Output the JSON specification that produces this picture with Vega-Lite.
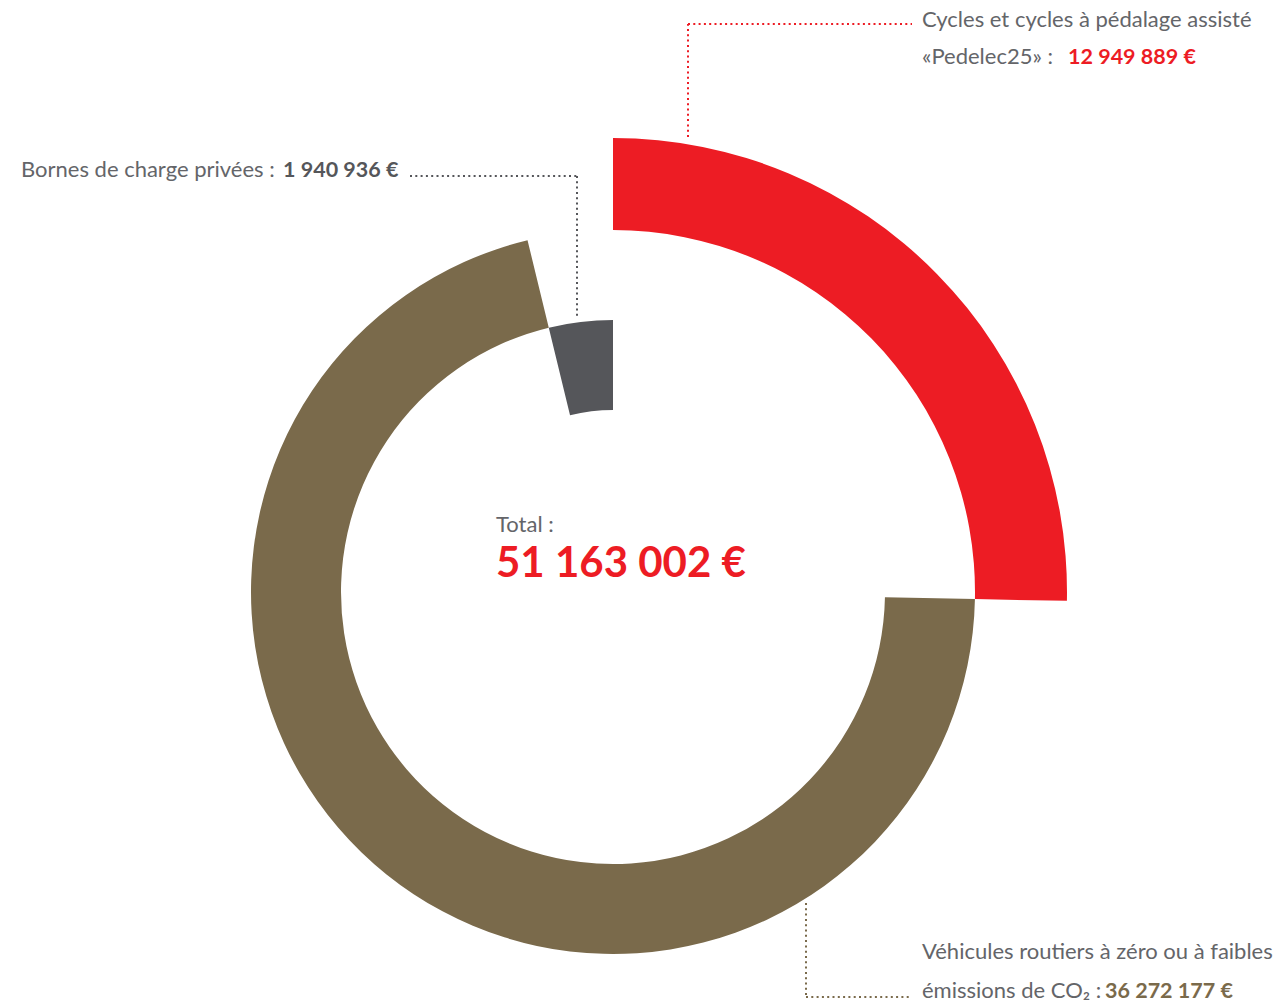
{
  "$schema": "https://vega.github.io/schema/vega-lite/v6.json",
  "width": 1278,
  "height": 1008,
  "autosize": {"type": "fit", "contains": "padding"},
  "padding": 0,
  "background": "white",
  "config": {
    "view": {"stroke": null},
    "locale": {"number": {"decimal": ",", "thousands": " ", "grouping": [3], "currency": ["", " €"]}},
    "text": {"font": "Lato", "fontSize": 22, "align": "left", "baseline": "alphabetic", "color": "#646569"}
  },
  "data": {
    "values": [
      {"categorie": "Cycles et cycles à pédalage assisté «Pedelec25»", "ordre": 1, "montant": 12949889},
      {"categorie": "Véhicules routiers à zéro ou à faibles émissions de CO₂", "ordre": 2, "montant": 36272177},
      {"categorie": "Bornes de charge privées", "ordre": 3, "montant": 1940936}
    ]
  },
  "transform": [
    {"stack": "montant", "groupby": [], "sort": [{"field": "ordre", "order": "ascending"}], "as": ["v0", "v1"]}
  ],
  "encoding": {
    "x": {"datum": 0, "type": "quantitative", "scale": {"domain": [-613, 665], "nice": false, "zero": false}, "axis": null},
    "y": {"datum": 0, "type": "quantitative", "scale": {"domain": [-416, 592], "nice": false, "zero": false}, "axis": null}
  },
  "layer": [
    {
      "transform": [{"filter": {"field": "ordre", "equal": 1}}],
      "mark": {"type": "arc", "innerRadius": 362, "outerRadius": 454, "color": "#ED1C24"},
      "encoding": {
        "theta": {"field": "v0", "type": "quantitative", "scale": {"domain": [0, 51163002]}},
        "theta2": {"field": "v1"}
      }
    },
    {
      "transform": [{"filter": {"field": "ordre", "equal": 2}}],
      "mark": {"type": "arc", "innerRadius": 272, "outerRadius": 362, "color": "#7A6A4B"},
      "encoding": {
        "theta": {"field": "v0", "type": "quantitative", "scale": {"domain": [0, 51163002]}},
        "theta2": {"field": "v1"}
      }
    },
    {
      "transform": [{"filter": {"field": "ordre", "equal": 3}}],
      "mark": {"type": "arc", "innerRadius": 182, "outerRadius": 272, "color": "#55565A"},
      "encoding": {
        "theta": {"field": "v0", "type": "quantitative", "scale": {"domain": [0, 51163002]}},
        "theta2": {"field": "v1"}
      }
    },
    {
      "transform": [{"filter": {"field": "ordre", "equal": 1}}],
      "mark": {"type": "rule", "color": "#ED1C24", "strokeWidth": 2, "strokeDash": [2, 3.3]},
      "encoding": {"x": {"datum": 75}, "y": {"datum": 455}, "y2": {"datum": 568}}
    },
    {
      "transform": [{"filter": {"field": "ordre", "equal": 1}}],
      "mark": {"type": "rule", "color": "#ED1C24", "strokeWidth": 2, "strokeDash": [2, 3.3]},
      "encoding": {"x": {"datum": 75}, "x2": {"datum": 299}, "y": {"datum": 568}}
    },
    {
      "transform": [{"filter": {"field": "ordre", "equal": 3}}],
      "mark": {"type": "rule", "color": "#55565A", "strokeWidth": 2, "strokeDash": [2, 3.3]},
      "encoding": {"x": {"datum": -203}, "x2": {"datum": -36}, "y": {"datum": 416}}
    },
    {
      "transform": [{"filter": {"field": "ordre", "equal": 3}}],
      "mark": {"type": "rule", "color": "#55565A", "strokeWidth": 2, "strokeDash": [2, 3.3]},
      "encoding": {"x": {"datum": -36}, "y": {"datum": 416}, "y2": {"datum": 273}}
    },
    {
      "transform": [{"filter": {"field": "ordre", "equal": 2}}],
      "mark": {"type": "rule", "color": "#7A6A4B", "strokeWidth": 2, "strokeDash": [2, 3.3]},
      "encoding": {"x": {"datum": 193}, "y": {"datum": -311}, "y2": {"datum": -405}}
    },
    {
      "transform": [{"filter": {"field": "ordre", "equal": 2}}],
      "mark": {"type": "rule", "color": "#7A6A4B", "strokeWidth": 2, "strokeDash": [2, 3.3]},
      "encoding": {"x": {"datum": 193}, "x2": {"datum": 298}, "y": {"datum": -405}}
    },
    {
      "transform": [{"filter": {"field": "ordre", "equal": 1}}],
      "mark": {"type": "text", "text": "Cycles et cycles à pédalage assisté\n«Pedelec25» :", "lineBreak": "\n", "lineHeight": 37},
      "encoding": {"x": {"datum": 309}, "y": {"datum": 565}}
    },
    {
      "transform": [{"filter": {"field": "ordre", "equal": 1}}],
      "mark": {"type": "text", "fontWeight": "bold", "fontSize": 21.5, "color": "#ED1C24"},
      "encoding": {"x": {"datum": 455}, "y": {"datum": 528}, "text": {"field": "montant", "type": "quantitative", "format": "$,d"}}
    },
    {
      "transform": [{"filter": {"field": "ordre", "equal": 3}}],
      "mark": {"type": "text", "text": "Bornes de charge privées :"},
      "encoding": {"x": {"datum": -592}, "y": {"datum": 415}}
    },
    {
      "transform": [{"filter": {"field": "ordre", "equal": 3}}],
      "mark": {"type": "text", "fontWeight": "bold", "fontSize": 21.5, "color": "#55565A"},
      "encoding": {"x": {"datum": -330}, "y": {"datum": 415}, "text": {"field": "montant", "type": "quantitative", "format": "$,d"}}
    },
    {
      "transform": [{"filter": {"field": "ordre", "equal": 2}}],
      "mark": {"type": "text", "text": "Véhicules routiers à zéro ou à faibles\némissions de CO₂ :", "lineBreak": "\n", "lineHeight": 39},
      "encoding": {"x": {"datum": 309}, "y": {"datum": -367}}
    },
    {
      "transform": [{"filter": {"field": "ordre", "equal": 2}}],
      "mark": {"type": "text", "fontWeight": "bold", "fontSize": 21.5, "color": "#7A6A4B"},
      "encoding": {"x": {"datum": 492}, "y": {"datum": -406}, "text": {"field": "montant", "type": "quantitative", "format": "$,d"}}
    },
    {
      "transform": [{"filter": {"field": "ordre", "equal": 1}}],
      "mark": {"type": "text", "text": "Total :"},
      "encoding": {"x": {"datum": -117}, "y": {"datum": 60}}
    },
    {
      "transform": [{"aggregate": [{"op": "sum", "field": "montant", "as": "total"}]}],
      "mark": {"type": "text", "fontWeight": "bold", "fontSize": 42, "color": "#ED1C24"},
      "encoding": {"x": {"datum": -117}, "y": {"datum": 15}, "text": {"field": "total", "type": "quantitative", "format": "$,d"}}
    }
  ]
}
